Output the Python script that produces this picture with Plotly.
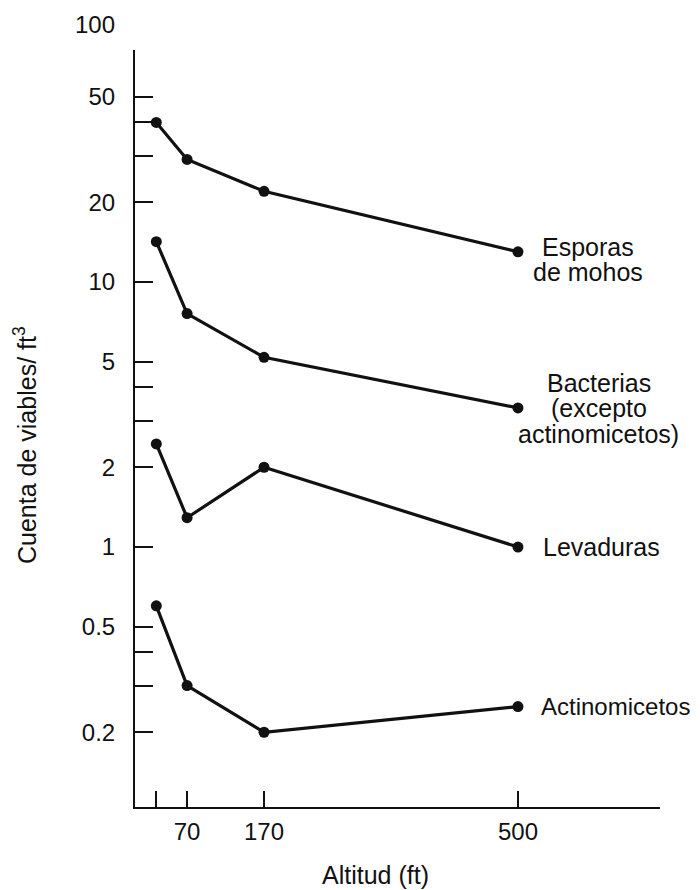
import math
import plotly.graph_objects as go

# Data
altitudes = [30, 70, 170, 500]
esporas = [40, 29, 22, 13]
bacterias = [14.2, 7.6, 5.2, 3.35]
levaduras = [2.45, 1.29, 2.0, 1.0]
actinomicetos = [0.60, 0.30, 0.20, 0.25]

y_tickvals = [0.2, 0.3, 0.4, 0.5, 1, 2, 3, 4, 5, 10, 20, 30, 40, 50]
y_ticktext = ["0.2", "", "", "0.5", "1", "2", "", "", "5", "10", "20", "", "", "50"]
x_tickvals = [30, 70, 170, 500]
x_ticktext = ["", "70", "170", "500"]

FONT = "Liberation Sans, Arial, Helvetica, sans-serif"
BLACK = "#111111"

y_lo, y_hi = -0.981, 1.8755
x_lo, x_hi = 2.3, 684.6

OFF = 8  # page body margin
W, H = 700 - OFF, 890 - OFF
ml, mr, mt, mb = 135 - OFF, 40, 50 - OFF, 83
pw, ph = W - ml - mr, H - mt - mb

def px_to_paper(sx, sy):
    return (sx - OFF - ml) / pw, (H - mb - (sy - OFF)) / ph

fig = go.Figure()
for vals in [esporas, bacterias, levaduras, actinomicetos]:
    fig.add_trace(go.Scatter(
        x=altitudes, y=vals, mode="lines+markers",
        line=dict(color=BLACK, width=3.2),
        marker=dict(color=BLACK, size=11),
        showlegend=False, cliponaxis=False,
    ))

ann = []
def lab(text, yval, xshift, yshift, xanchor="center", size=25):
    ann.append(dict(x=altitudes[-1], y=math.log10(yval), xref="x", yref="y",
                    text=text, showarrow=False, xanchor=xanchor, yanchor="middle",
                    xshift=xshift, yshift=yshift, borderpad=0,
                    font=dict(family=FONT, size=size, color=BLACK)))

lab("Esporas", esporas[-1], 70, 5)
lab("de mohos", esporas[-1], 70, -20)
lab("Bacterias", bacterias[-1], 81, 25)
lab("(excepto", bacterias[-1], 81, 0)
lab("actinomicetos)", bacterias[-1], 81, -26)
lab("Levaduras", levaduras[-1], 24, 0, "left")
lab("Actinomicetos", actinomicetos[-1], 22, 0, "left", 24)

# "100" label above the axis top
ann.append(dict(x=0, y=(2 - y_lo) / (y_hi - y_lo), xref="paper", yref="paper",
                text="100", showarrow=False, xanchor="right", yanchor="middle",
                xshift=-18, yshift=-7,
                font=dict(family=FONT, size=24, color=BLACK)))
# axis titles
tx, ty = px_to_paper(375, 875)
ann.append(dict(x=tx, y=ty, xref="paper", yref="paper", text="Altitud (ft)",
                xanchor="center", yanchor="middle",
                showarrow=False, font=dict(family=FONT, size=25, color=BLACK)))
tx, ty = px_to_paper(25, 445)
ann.append(dict(x=tx, y=ty, xref="paper", yref="paper",
                text="Cuenta de viables/ ft<sup>3</sup>", textangle=-90,
                xanchor="center", yanchor="middle",
                showarrow=False, font=dict(family=FONT, size=25, color=BLACK)))

fig.update_layout(
    width=W, height=H,
    margin=dict(l=ml, r=mr, t=mt, b=mb, pad=0),
    paper_bgcolor="white", plot_bgcolor="white",
    font=dict(family=FONT, size=24, color=BLACK),
    annotations=ann,
    xaxis=dict(range=[x_lo, x_hi], tickvals=x_tickvals, ticktext=x_ticktext,
               ticks="inside", ticklen=16, tickwidth=2, tickcolor=BLACK,
               showline=True, linecolor=BLACK, linewidth=2, showgrid=False,
               zeroline=False, ticklabelstandoff=2,
               tickfont=dict(family=FONT, size=24, color=BLACK)),
    yaxis=dict(type="log", range=[y_lo, y_hi], tickvals=y_tickvals, ticktext=y_ticktext,
               ticks="inside", ticklen=18, tickwidth=2, tickcolor=BLACK,
               showline=True, linecolor=BLACK, linewidth=2, showgrid=False,
               zeroline=False, ticklabelstandoff=13,
               tickfont=dict(family=FONT, size=24, color=BLACK)),
)

fig.write_html("out.html")
